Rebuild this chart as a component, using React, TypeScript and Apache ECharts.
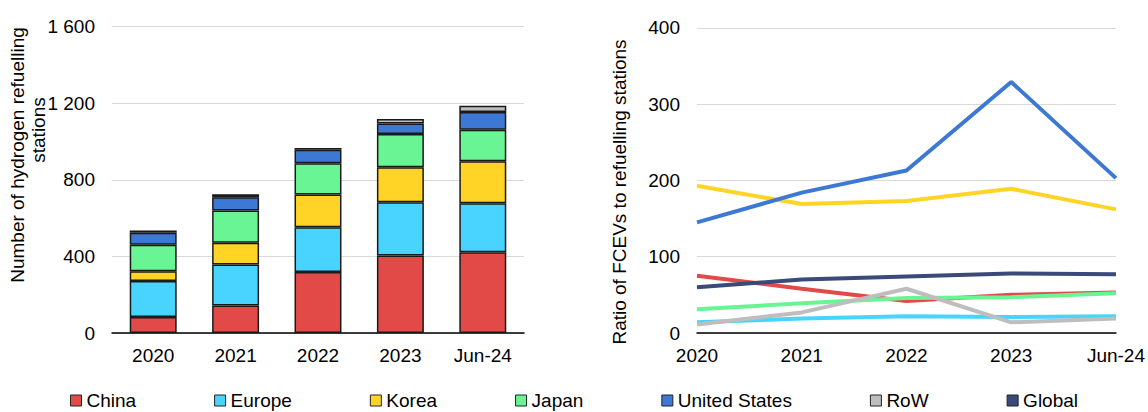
import React, { useEffect, useRef } from "react";
import * as echarts from "echarts";

const barCategories = ["2020", "2021", "2022", "2023", "Jun-24"];
const lineCategories = ["2020", "2021", "2022", "2023", "Jun-24"];

// Stacked bars: number of hydrogen refuelling stations
const stationsChina = [83, 144, 318, 405, 422];
const stationsEurope = [188, 214, 234, 278, 255];
const stationsKorea = [52, 113, 171, 182, 219];
const stationsJapan = [138, 168, 163, 174, 165];
const stationsUS = [62, 70, 70, 55, 93];
const stationsRoW = [12, 15, 10, 23, 32];

// Lines: ratio of FCEVs to refuelling stations
const ratioChina = [75, 58, 42, 50, 53];
const ratioEurope = [14, 19, 22, 21, 22];
const ratioKorea = [193, 169, 173, 189, 162];
const ratioJapan = [31, 39, 46, 47, 52];
const ratioUS = [145, 184, 213, 329, 203];
const ratioRoW = [11, 27, 58, 14, 19];
const ratioGlobal = [60, 70, 74, 78, 77];

const leftTicks = { min: 0, max: 1600, interval: 400 };
const rightTicks = { min: 0, max: 400, interval: 100 };

const legendNames = ["China", "Europe", "Korea", "Japan", "United States", "RoW", "Global"];

const COLORS: Record<string, string> = {
  China: "#E24A48",
  Europe: "#48D4FF",
  Korea: "#FFD426",
  Japan: "#69F593",
  "United States": "#3D79D4",
  RoW: "#BEBEBE",
  Global: "#3A4A7A",
};

const FONT = "'Liberation Sans', Arial, sans-serif";
const FS = 19;

export default function App() {
  const ref = useRef<HTMLDivElement>(null);

  useEffect(() => {
    document.body.style.margin = "0";
    if (!ref.current) return;
    const chart = echarts.init(ref.current, undefined, { renderer: "svg" });

    const barData: [string, number[]][] = [
      ["China", stationsChina],
      ["Europe", stationsEurope],
      ["Korea", stationsKorea],
      ["Japan", stationsJapan],
      ["United States", stationsUS],
      ["RoW", stationsRoW],
    ];
    const lineData: [string, number[]][] = [
      ["China", ratioChina],
      ["Europe", ratioEurope],
      ["Korea", ratioKorea],
      ["Japan", ratioJapan],
      ["United States", ratioUS],
      ["RoW", ratioRoW],
      ["Global", ratioGlobal],
    ];

    const fmt = (v: number) => String(v).replace(/\B(?=(\d{3})+(?!\d))/g, " ");

    const axisLabel = { color: "#000", fontSize: FS, fontFamily: FONT };

    const vText = (text: string, x: number, y: number) => ({
      type: "text",
      x,
      y,
      rotation: Math.PI / 2,
      style: {
        text,
        fill: "#000",
        fontSize: FS,
        fontFamily: FONT,
        align: "center",
        verticalAlign: "middle",
      },
    });

    chart.setOption({
      animation: false,
      textStyle: { fontFamily: FONT },
      grid: [
        { left: 112, right: 1148 - 524, top: 26.5, bottom: 412 - 333, containLabel: false },
        { left: 697, right: 31, top: 27.8, bottom: 412 - 333, containLabel: false },
      ],
      legend: {
        data: legendNames,
        left: "center",
        top: 391,
        padding: 0,
        icon: "rect",
        itemWidth: 11,
        itemHeight: 11,
        itemGap: 78,
        itemStyle: { borderColor: "#222", borderWidth: 1 },
        textStyle: { color: "#000", fontSize: FS, fontFamily: FONT, padding: [0, 0, 0, 0] },
      },
      xAxis: [
        {
          type: "category",
          gridIndex: 0,
          data: barCategories,
          axisLine: { lineStyle: { color: "#000", width: 1.5 } },
          axisTick: { show: false },
          axisLabel: { ...axisLabel, margin: 13 },
        },
        {
          type: "category",
          gridIndex: 1,
          data: lineCategories,
          boundaryGap: false,
          axisLine: { lineStyle: { color: "#000", width: 1.5 } },
          axisTick: { show: false },
          axisLabel: { ...axisLabel, margin: 13 },
        },
      ],
      yAxis: [
        {
          type: "value",
          gridIndex: 0,
          ...leftTicks,
          axisLine: { show: false },
          axisTick: { show: false },
          splitLine: { lineStyle: { color: "#D9D9D9", width: 1.2 } },
          axisLabel: { ...axisLabel, margin: 17, formatter: fmt },
        },
        {
          type: "value",
          gridIndex: 1,
          ...rightTicks,
          axisLine: { show: false },
          axisTick: { show: false },
          splitLine: { lineStyle: { color: "#D9D9D9", width: 1.2 } },
          axisLabel: { ...axisLabel, margin: 17, formatter: fmt },
        },
      ],
      graphic: [
        vText("Number of hydrogen refuelling", 17, 155),
        vText("stations", 38.5, 130),
        vText("Ratio of FCEVs to refuelling stations", 619, 192),
      ],
      series: [
        ...barData.map(([name, data]) => ({
          name,
          type: "bar",
          stack: "stations",
          xAxisIndex: 0,
          yAxisIndex: 0,
          barWidth: "57%",
          data,
          itemStyle: { color: COLORS[name], borderColor: "#1a1a1a", borderWidth: 1.5 },
        })),
        ...lineData.map(([name, data]) => ({
          name,
          type: "line",
          xAxisIndex: 1,
          yAxisIndex: 1,
          data,
          symbol: "none",
          showSymbol: false,
          itemStyle: { color: COLORS[name] },
          lineStyle: { color: COLORS[name], width: 4 },
        })),
      ],
    });

    return () => chart.dispose();
  }, []);

  return <div ref={ref} style={{ width: 1148, height: 412 }} />;
}
